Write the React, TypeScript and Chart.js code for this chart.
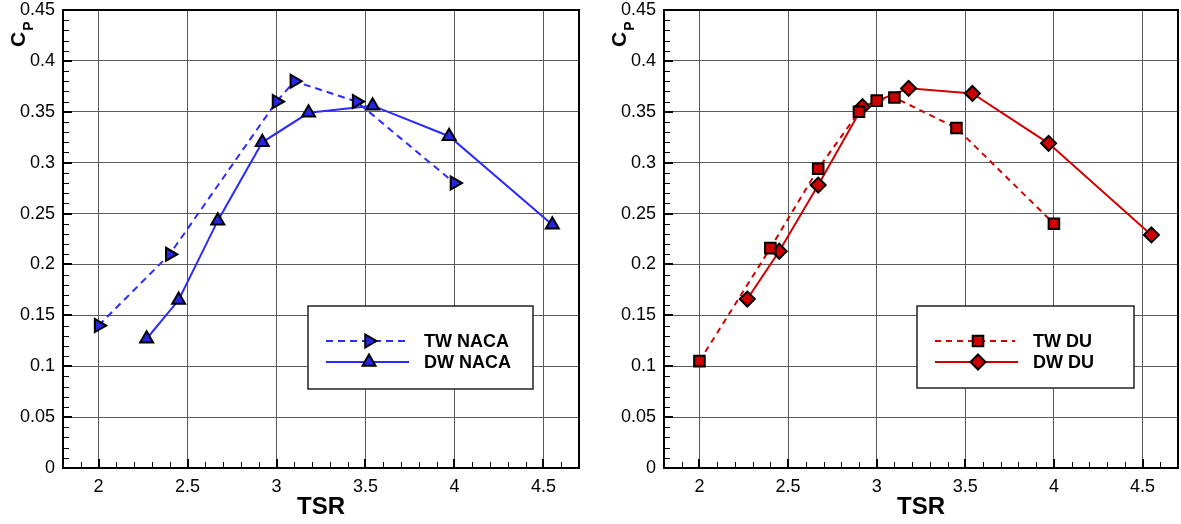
import React, { useEffect, useRef } from 'react';
import { Chart, registerables } from 'chart.js';

Chart.register(...registerables);

const FONT = "'Liberation Sans', Arial, Helvetica, sans-serif";

// Axis ticks
const xTickValues = [2, 2.5, 3, 3.5, 4, 4.5];
const xTickLabels = ['2', '2.5', '3', '3.5', '4', '4.5'];
const yTickValues = [0, 0.05, 0.1, 0.15, 0.2, 0.25, 0.3, 0.35, 0.4, 0.45];
const yTickLabels = ['0', '0.05', '0.1', '0.15', '0.2', '0.25', '0.3', '0.35', '0.4', '0.45'];

// Left panel: NACA
const twNacaTsr = [2.0, 2.4, 3.0, 3.1, 3.45, 4.0];
const twNacaCp = [0.14, 0.21, 0.36, 0.38, 0.36, 0.28];
const dwNacaTsr = [2.27, 2.45, 2.67, 2.92, 3.18, 3.54, 3.97, 4.55];
const dwNacaCp = [0.127, 0.165, 0.243, 0.32, 0.349, 0.356, 0.326, 0.239];

// Right panel: DU
const twDuTsr = [2.0, 2.4, 2.67, 2.9, 3.0, 3.1, 3.45, 4.0];
const twDuCp = [0.105, 0.216, 0.294, 0.35, 0.361, 0.364, 0.334, 0.24];
const dwDuTsr = [2.27, 2.45, 2.67, 2.92, 3.18, 3.54, 3.97, 4.55];
const dwDuCp = [0.166, 0.213, 0.278, 0.355, 0.373, 0.368, 0.319, 0.229];

type Series = {
  label: string;
  x: number[];
  y: number[];
  color: string;
  fill: string;
  dash: number[];
  marker: 'triangle' | 'rect' | 'rectRot';
  rotation: number;
  radius: number;
};

const nacaSeries: Series[] = [
  { label: 'TW NACA', x: twNacaTsr, y: twNacaCp, color: '#2a2aff', fill: '#2626e0', dash: [7, 5], marker: 'triangle', rotation: 90, radius: 7.5 },
  { label: 'DW NACA', x: dwNacaTsr, y: dwNacaCp, color: '#2a2aff', fill: '#2626e0', dash: [], marker: 'triangle', rotation: 0, radius: 7.5 },
];
const duSeries: Series[] = [
  { label: 'TW DU', x: twDuTsr, y: twDuCp, color: '#d00000', fill: '#cc0000', dash: [6, 5], marker: 'rect', rotation: 0, radius: 7.5 },
  { label: 'DW DU', x: dwDuTsr, y: dwDuCp, color: '#d00000', fill: '#cc0000', dash: [], marker: 'rectRot', rotation: 0, radius: 7.5 },
];

function drawMarker(ctx: CanvasRenderingContext2D, s: Series, x: number, y: number) {
  const r = s.radius;
  ctx.save();
  ctx.beginPath();
  if (s.marker === 'triangle') {
    let rad = (s.rotation * Math.PI) / 180;
    ctx.moveTo(x + Math.sin(rad) * r, y - Math.cos(rad) * r);
    rad += (2 * Math.PI) / 3;
    ctx.lineTo(x + Math.sin(rad) * r, y - Math.cos(rad) * r);
    rad += (2 * Math.PI) / 3;
    ctx.lineTo(x + Math.sin(rad) * r, y - Math.cos(rad) * r);
    ctx.closePath();
  } else if (s.marker === 'rect') {
    const h = Math.SQRT1_2 * r;
    ctx.rect(x - h, y - h, 2 * h, 2 * h);
  } else {
    ctx.moveTo(x, y - r);
    ctx.lineTo(x + r, y);
    ctx.lineTo(x, y + r);
    ctx.lineTo(x - r, y);
    ctx.closePath();
  }
  ctx.fillStyle = s.fill;
  ctx.fill();
  ctx.lineWidth = 2;
  ctx.strokeStyle = '#000';
  ctx.setLineDash([]);
  ctx.stroke();
  ctx.restore();
}

type PanelProps = {
  left: number;
  width: number;
  yAxisWidth: number;
  padRight: number;
  series: Series[];
  legend: { dx: number; dy: number; w: number; h: number };
};

function Panel({ left, width, yAxisWidth, padRight, series, legend }: PanelProps) {
  const ref = useRef<HTMLCanvasElement>(null);

  useEffect(() => {
    const canvas = ref.current!;

    const framePlugin = {
      id: 'frameTicks',
      afterDraw(chart: any) {
        const { ctx, chartArea } = chart;
        const xs = chart.scales.x;
        const ys = chart.scales.y;
        ctx.save();
        ctx.strokeStyle = '#000';
        // x ticks (inward, from bottom)
        for (let k = 18; k <= 47; k++) {
          const px = Math.round(xs.getPixelForValue(k / 10));
          const major = k % 5 === 0;
          ctx.lineWidth = major ? 2 : 1;
          const len = major ? 9 : 6;
          ctx.beginPath();
          ctx.moveTo(major ? px : px + 0.5, chartArea.bottom);
          ctx.lineTo(major ? px : px + 0.5, chartArea.bottom - len);
          ctx.stroke();
        }
        // y ticks (inward, from left)
        for (let k = 0; k <= 45; k++) {
          const py = Math.round(ys.getPixelForValue(k / 100));
          const major = k % 5 === 0;
          ctx.lineWidth = major ? 2 : 1;
          const len = major ? 9 : 6;
          ctx.beginPath();
          ctx.moveTo(chartArea.left, major ? py : py + 0.5);
          ctx.lineTo(chartArea.left + len, major ? py : py + 0.5);
          ctx.stroke();
        }
        // frame
        ctx.lineWidth = 2;
        ctx.strokeRect(chartArea.left, chartArea.top, chartArea.right - chartArea.left, chartArea.bottom - chartArea.top);

        // C_P axis title
        ctx.fillStyle = '#000';
        ctx.translate(chartArea.left - 38, chartArea.top + 37);
        ctx.rotate(-Math.PI / 2);
        ctx.textAlign = 'left';
        ctx.textBaseline = 'alphabetic';
        ctx.font = `bold 21px ${FONT}`;
        ctx.fillText('C', 0, 0);
        const cw = ctx.measureText('C').width;
        ctx.font = `bold 14px ${FONT}`;
        ctx.fillText('P', cw + 1, 8);
        ctx.restore();

        // legend box
        const bx = chartArea.left + legend.dx;
        const by = chartArea.top + legend.dy;
        ctx.save();
        ctx.fillStyle = '#fff';
        ctx.fillRect(bx, by, legend.w, legend.h);
        ctx.lineWidth = 1.5;
        ctx.strokeStyle = '#222';
        ctx.strokeRect(bx, by, legend.w, legend.h);
        series.forEach((s, i) => {
          const ry = by + 35 + i * 21;
          ctx.save();
          ctx.strokeStyle = s.color;
          ctx.lineWidth = 2;
          ctx.setLineDash(s.dash);
          ctx.beginPath();
          ctx.moveTo(bx + 18, ry);
          ctx.lineTo(bx + (s.dash.length ? 98 : 101), ry);
          ctx.stroke();
          ctx.restore();
          drawMarker(ctx, s, bx + 61, ry);
          ctx.fillStyle = '#000';
          ctx.font = `bold 18px ${FONT}`;
          ctx.textAlign = 'left';
          ctx.textBaseline = 'middle';
          ctx.fillText(s.label, bx + 116, ry + 1);
        });
        ctx.restore();
      },
    };

    const chart = new Chart(canvas, {
      type: 'line',
      data: {
        datasets: series.map((s) => ({
          label: s.label,
          data: s.x.map((x, i) => ({ x, y: s.y[i] })),
          borderColor: s.color,
          borderWidth: 2,
          borderDash: s.dash,
          pointStyle: s.marker,
          pointRotation: s.rotation,
          pointRadius: s.radius,
          pointBackgroundColor: s.fill,
          pointBorderColor: '#000',
          pointBorderWidth: 2,
          tension: 0,
          fill: false,
        })),
      },
      options: {
        animation: false,
        responsive: false,
        devicePixelRatio: 1,
        layout: { autoPadding: false, padding: { top: 10, right: padRight, left: 0, bottom: 0 } },
        plugins: { legend: { display: false }, tooltip: { enabled: false } },
        scales: {
          x: {
            type: 'linear',
            min: 1.8,
            max: 4.7,
            afterBuildTicks: (sc: any) => {
              sc.ticks = xTickValues.map((v) => ({ value: v }));
            },
            afterFit: (sc: any) => {
              sc.height = 56;
              sc.paddingLeft = 0;
              sc.paddingRight = 0;
              sc.paddingTop = 0;
              sc.paddingBottom = 0;
            },
            grid: { color: '#5a5a5a', lineWidth: 1, drawTicks: false },
            border: { display: false },
            ticks: {
              padding: 8,
              color: '#000',
              font: { family: FONT, size: 18 },
              maxRotation: 0,
              autoSkip: false,
              callback: (_v: any, i: number) => xTickLabels[i],
            },
            title: {
              display: true,
              text: 'TSR',
              color: '#000',
              font: { family: FONT, size: 24, weight: 'bold', lineHeight: 1 },
              padding: { top: 0, bottom: 5 },
            },
          },
          y: {
            type: 'linear',
            min: 0,
            max: 0.45,
            afterBuildTicks: (sc: any) => {
              sc.ticks = yTickValues.map((v) => ({ value: v }));
            },
            afterFit: (sc: any) => {
              sc.width = yAxisWidth;
              sc.paddingLeft = 0;
              sc.paddingRight = 0;
              sc.paddingTop = 0;
              sc.paddingBottom = 0;
            },
            grid: { color: '#5a5a5a', lineWidth: 1, drawTicks: false },
            border: { display: false },
            ticks: {
              padding: 8,
              color: '#000',
              font: { family: FONT, size: 18 },
              autoSkip: false,
              callback: (_v: any, i: number) => yTickLabels[i],
            },
          },
        },
      } as any,
      plugins: [framePlugin],
    });
    return () => chart.destroy();
  }, []);

  return (
    <canvas
      ref={ref}
      width={width}
      height={524}
      style={{ position: 'absolute', left, top: 0, width, height: 524 }}
    />
  );
}

export default function App() {
  return (
    <div style={{ position: 'fixed', left: 0, top: 0, width: 1181, height: 524, background: '#fff', overflow: 'hidden' }}>
      <Panel left={0} width={590} yAxisWidth={63} padRight={11} series={nacaSeries} legend={{ dx: 245, dy: 296, w: 225, h: 83 }} />
      <Panel left={600} width={581} yAxisWidth={64} padRight={3} series={duSeries} legend={{ dx: 253, dy: 296, w: 217, h: 82 }} />
    </div>
  );
}
